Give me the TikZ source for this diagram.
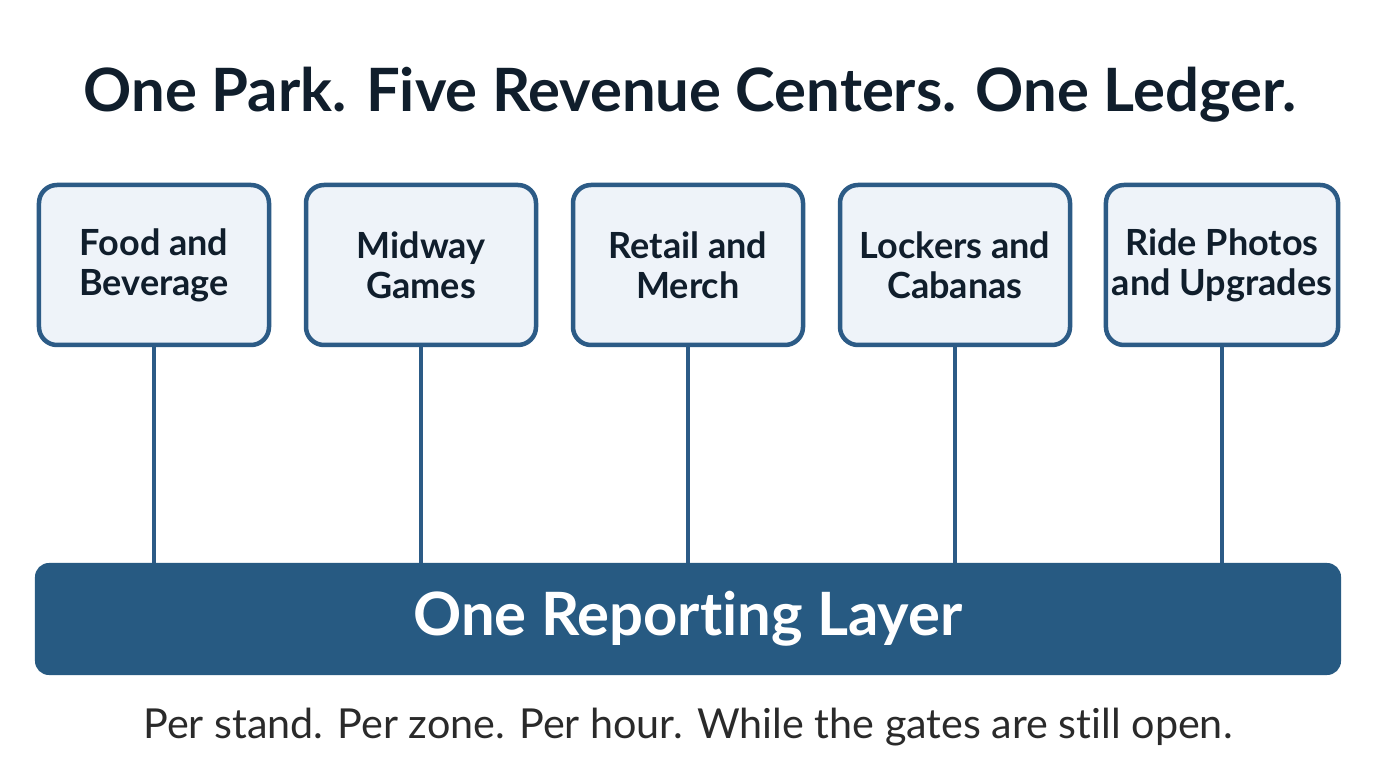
\documentclass[tikz,border=0pt]{standalone}
\usepackage{fontspec}
\setmainfont[Ligatures=NoCommon]{Lato}
\usetikzlibrary{positioning}
\definecolor{steel}{RGB}{44,91,134}
\definecolor{slab}{RGB}{39,90,130}
\definecolor{mist}{RGB}{238,243,249}
\definecolor{ink}{RGB}{16,30,44}
\definecolor{coal}{RGB}{42,42,42}
\tikzset{
  center/.style={draw=steel,fill=mist,line width=0.09cm,rounded corners=0.36cm,
    minimum width=4.6cm,minimum height=3.2cm,align=center,
    font=\fontsize{20.5}{22.8}\selectfont\bfseries,text=ink},
  stem/.style={draw=steel,line width=0.08cm},
  ledger/.style={fill=slab,text=white,rounded corners=0.28cm,
    minimum width=26.12cm,minimum height=2.24cm,
    font=\fontsize{34}{40}\selectfont\bfseries},
}

\begin{document}
\begin{tikzpicture}[x=0.2mm,y=-0.2mm]
  \useasboundingbox[fill=white] (0,0) rectangle (1376,768);
  \node[anchor=base,text=ink,font=\fontsize{34}{40}\selectfont\bfseries] (title) at (690,112)
    {One Park. Five Revenue Centers. One Ledger.};
  \node[ledger] (layer) at (688,619) {One Reporting Layer};
  \foreach \t [count=\i] in {Food and\\Beverage,Midway\\Games,Retail and\\Merch,Lockers and\\Cabanas,Ride Photos\\and Upgrades}{
    \node[center] (rc\i) at (154+267*\i-267,265) {\t};
    \draw[stem] (rc\i.south) -- (rc\i.south |- layer.north);
  }
  \node[anchor=base,text=coal,font=\fontsize{23.5}{28}\selectfont] (tagline) at (688,738)
    {Per stand. Per zone. Per hour. While the gates are still open.};
\end{tikzpicture}
\end{document}
